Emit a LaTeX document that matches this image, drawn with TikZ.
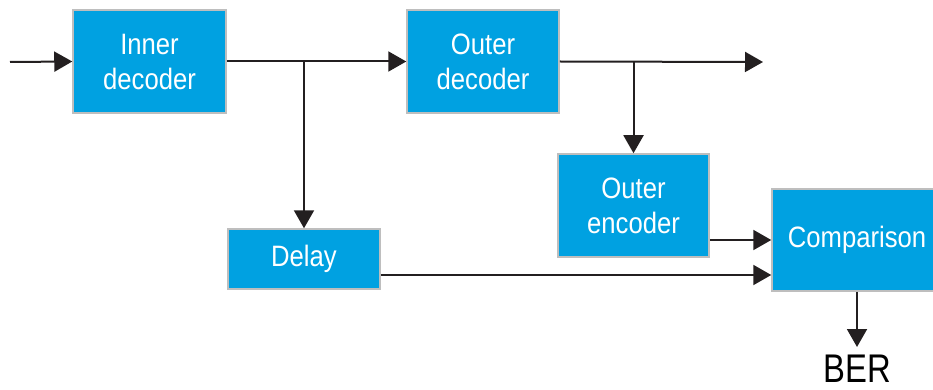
\documentclass[tikz,border=0pt]{standalone}
\usepackage{fontspec}
\setmainfont[FakeStretch=0.87]{Liberation Sans}
\newfontfamily\berfont[FakeStretch=0.82]{Liberation Sans}
\usetikzlibrary{arrows.meta}
\definecolor{boxblue}{RGB}{0,161,225}
\definecolor{boxedge}{RGB}{190,190,190}

\begin{document}
\begin{tikzpicture} [x = 1pt, y = -1pt,
  block/.style = {fill=boxblue, draw=boxedge, line width=1.5pt, text=white, align=center,
    font=\fontsize{29.5}{35}\selectfont, inner sep=0pt},
  arr/.style = {line width=2pt, draw={rgb,255:red,35;green,31;blue,32}, -{Triangle[length=18pt, width=20pt]}}]
\useasboundingbox (0, 0) rectangle (933, 390);
\node[block, minimum width=153, minimum height=103] (inner) at (149.5, 61.5){Inner\\decoder};
\node[block, minimum width=152, minimum height=103] (outerdec) at (483, 61.5){Outer\\decoder};
\node[block, minimum width=151, minimum height=103] (outerenc) at (633.5, 205.5){Outer\\encoder};
\node[block, minimum width=152, minimum height=60] (delay) at (304, 259){Delay};
\node[block, minimum width=170, minimum height=102] (cmp) at (857, 240){Comparison};
\node[anchor=north, inner sep=0pt, outer ysep=8pt, font=\berfont\fontsize{40}{40}\selectfont] (ber) at (857, 347){BER};
\coordinate (in) at (10, 62);
\coordinate (out) at (763, 62);
\draw[arr] (in) -- (inner.west);
\draw[arr] (inner.east) -- (outerdec.west);
\draw[arr] (delay.north |- inner.east) -- (delay.north);
\draw[arr] (outerdec.east) -- (out);
\draw[arr] (outerenc.north |- outerdec.east) -- (outerenc.north);
\draw[arr] (outerenc.east |- cmp.west) -- (cmp.west);
\draw[arr] ([yshift=-16pt]delay.east) -- ([yshift=-16pt]delay.east -| cmp.west);
\draw[arr] (cmp.south -| ber.north) -- (ber.north);
\end{tikzpicture}
\end{document}
